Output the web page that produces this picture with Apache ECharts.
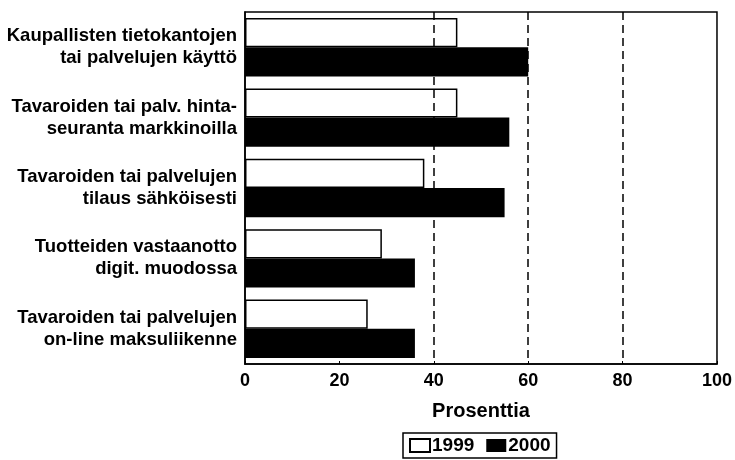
<!DOCTYPE html>
<html>
<head>
<meta charset="utf-8">
<script src="https://cdn.jsdelivr.net/npm/echarts@6/dist/echarts.min.js"></script>
<style>
html,body{margin:0;padding:0;background:#fff;}
#c{width:735px;height:460px;}
</style>
</head>
<body>
<div id="c"></div>
<script>
var categories = [
  'Kaupallisten tietokantojen\ntai palvelujen käyttö',
  'Tavaroiden tai palv. hinta-\nseuranta markkinoilla',
  'Tavaroiden tai palvelujen\ntilaus sähköisesti',
  'Tuotteiden vastaanotto\ndigit. muodossa',
  'Tavaroiden tai palvelujen\non-line maksuliikenne'
];
var seriesNames = ['1999', '2000'];
var values1999 = [45, 45, 38, 29, 26];
var values2000 = [60, 56, 55, 36, 36];
var xTicks = [0, 20, 40, 60, 80, 100];
var refLines = [40, 60, 80];
var axisTitle = 'Prosenttia';

var FONT = '"Liberation Sans", Arial, Helvetica, sans-serif';
var chart = echarts.init(document.getElementById('c'), null, {renderer: 'canvas'});
chart.setOption({
  animation: false,
  backgroundColor: '#fff',
  textStyle: {fontFamily: FONT, color: '#000'},
  grid: {
    left: 245, right: 12, top: 12, bottom: 96,
    show: true, borderColor: '#000', borderWidth: 1.5, backgroundColor: 'transparent'
  },
  legend: {
    data: seriesNames,
    left: 403, top: 433,
    orient: 'horizontal',
    borderColor: '#000', borderWidth: 1.5, borderRadius: 0,
    padding: [3, 6, 3, 6],
    itemWidth: 20, itemHeight: 13, itemGap: 12,
    textStyle: {fontFamily: FONT, fontSize: 19, fontWeight: 'bold', color: '#000', padding: [0, 0, 0, -3]},
    icon: 'rect'
  },
  xAxis: {
    type: 'value',
    min: xTicks[0], max: xTicks[xTicks.length - 1], interval: xTicks[1] - xTicks[0],
    name: axisTitle, nameLocation: 'middle', nameGap: 37,
    nameTextStyle: {fontFamily: FONT, fontSize: 20, fontWeight: 'bold', color: '#000'},
    axisLine: {show: true, lineStyle: {color: '#000', width: 1.5}},
    axisTick: {show: true, inside: true, length: 3, lineStyle: {color: '#000'}},
    axisLabel: {fontFamily: FONT, fontSize: 18, fontWeight: 'bold', color: '#000', margin: 8},
    splitLine: {show: false}
  },
  yAxis: {
    type: 'category',
    data: categories,
    inverse: true,
    axisLine: {show: true, lineStyle: {color: '#000', width: 1.5}},
    axisTick: {show: false},
    axisLabel: {fontFamily: FONT, fontSize: 18.5, fontWeight: 'bold', color: '#000', margin: 8, lineHeight: 22, align: 'right'},
    splitLine: {show: false}
  },
  series: [
    {
      name: seriesNames[0], type: 'bar', data: values1999,
      barGap: '0%', barCategoryGap: '17%',
      itemStyle: {color: '#fff', borderColor: '#000', borderWidth: 1.5}
    },
    {
      name: seriesNames[1], type: 'bar', data: values2000,
      barGap: '0%', barCategoryGap: '17%',
      itemStyle: {color: '#000', borderColor: '#000', borderWidth: 0},
      markLine: {
        silent: true, symbol: 'none', label: {show: false},
        lineStyle: {color: '#000', width: 1.5, type: [8, 5]},
        data: refLines.map(function (v) { return {xAxis: v}; })
      }
    }
  ]
});
</script>
</body>
</html>
